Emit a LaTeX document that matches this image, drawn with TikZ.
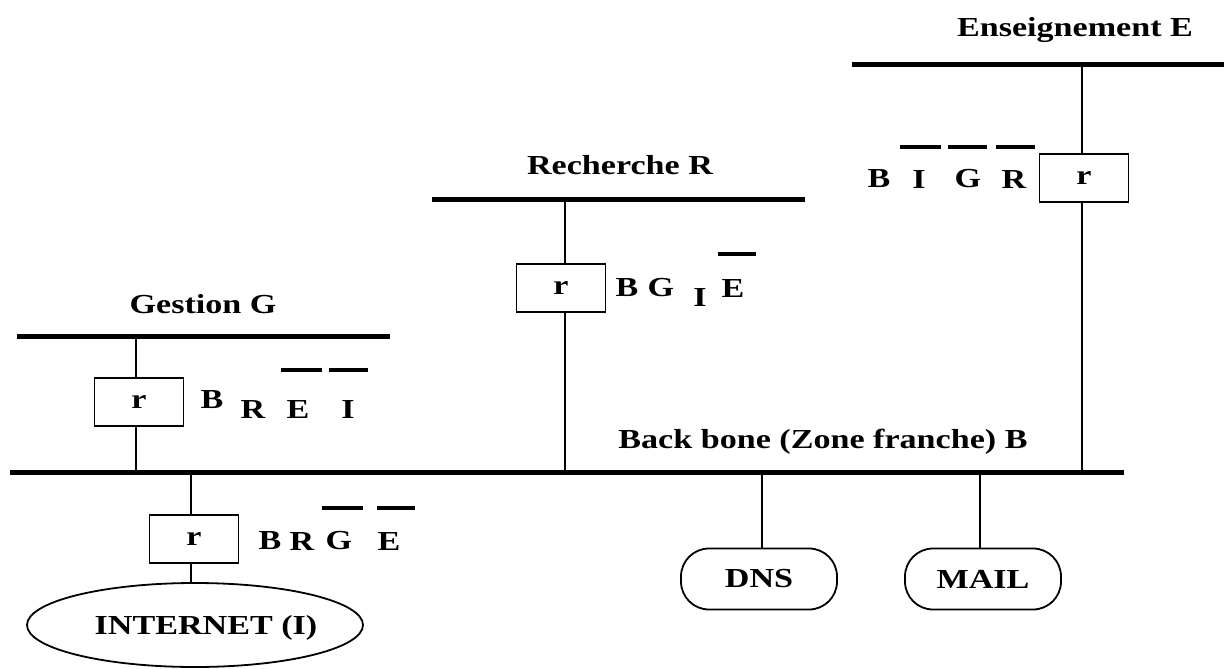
\documentclass[tikz,border=0pt]{standalone}
\usepackage{fontspec}
\setmainfont[FakeStretch=1.24]{Liberation Serif}
\usetikzlibrary{shapes.geometric}
\begin{document}
\begin{tikzpicture}[x=1pt,y=-1pt,
  every node/.style={font=\fontsize{27.5}{31}\selectfont\bfseries, inner sep=0pt},
  bus/.style={line width=5pt},
  link/.style={line width=1.8pt},
  bar/.style={line width=4pt},
  router/.style={draw, line width=1.8pt, fill=white, minimum width=89pt, minimum height=48pt},
  server/.style={draw, line width=1.8pt, rounded corners=28pt, minimum width=156pt, minimum height=61pt},
  cloud/.style={draw, ellipse, line width=1.8pt, minimum width=336pt, minimum height=84pt}]
\useasboundingbox (0,0) rectangle (1224,669);

% Enseignement
\node (tE) at (1075,30) {Enseignement E};
\coordinate (eL) at (852,65); \coordinate (eR) at (1224,65);
\draw[bus] (eL) -- (eR);
\coordinate (eT) at (1082,65); \coordinate (eB) at (1082,472);
\node[router] (rE) at (1084,178) {r};
\draw[link] (eT) -- (rE.north -| eT);
\draw[link] (rE.south -| eT) -- (eB);
\node (e1) at (879,179) {B};
\node (e2) at (919,179) {I};
\node (e3) at (968,179) {G};
\node (e4) at (1014,179) {R};
\draw[bar] (900,147) -- (941,147);
\draw[bar] (948,147) -- (987,147);
\draw[bar] (996,147) -- (1035,147);

% Recherche
\node (tR) at (620,165) {Recherche R};
\coordinate (rL) at (432,199); \coordinate (rR) at (805,199);
\draw[bus] (rL) -- (rR);
\coordinate (rT) at (565,199); \coordinate (rB) at (565,470);
\node[router] (rRr) at (561,288) {r};
\draw[link] (rT) -- (rRr.north -| rT);
\draw[link] (rRr.south -| rT) -- (rB);
\node (r1) at (627,288) {B};
\node (r2) at (661,288) {G};
\node (r3) at (700,297) {I};
\node (r4) at (733,288) {E};
\draw[bar] (718,254) -- (756,254);

% Gestion
\node (tG) at (203,304) {Gestion G};
\coordinate (gL) at (17,336); \coordinate (gR) at (390,336);
\draw[bus] (gL) -- (gR);
\coordinate (gT) at (136,336); \coordinate (gB) at (136,472);
\node[router] (rG) at (139,402) {r};
\draw[link] (gT) -- (rG.north -| gT);
\draw[link] (rG.south -| gT) -- (gB);
\node (g1) at (212,400) {B};
\node (g2) at (253,409) {R};
\node (g3) at (298,409) {E};
\node (g4) at (348,409) {I};
\draw[bar] (281,370) -- (322,370);
\draw[bar] (329,370) -- (368,370);

% Backbone
\node (tB) at (823,442) {Back bone (Zone franche) B};
\coordinate (bL) at (10,472); \coordinate (bR) at (1124,472);
\draw[bus] (bL) -- (bR);

% Internet
\coordinate (iT) at (191,472);
\node[router] (rI) at (194,539) {r};
\node[cloud] (net) at (195,625) {};
\node (tI) at (206,628) {INTERNET (I)};
\draw[link] (iT) -- (rI.north -| iT);
\draw[link] (rI.south -| iT) -- (net.north -| iT);
\node (i1) at (270,541) {B};
\node (i2) at (302,541) {R};
\node (i3) at (339,541) {G};
\node (i4) at (389,541) {E};
\draw[bar] (322,508) -- (363,508);
\draw[bar] (377,508) -- (415,508);

% DNS / MAIL
\node[server] (dns) at (759,579) {DNS};
\node[server] (mail) at (983,579) {MAIL};
\coordinate (dT) at (762,472); \coordinate (mT) at (980,472);
\draw[link] (dT) -- (dns.north -| dT);
\draw[link] (mT) -- (mail.north -| mT);
\end{tikzpicture}
\end{document}
